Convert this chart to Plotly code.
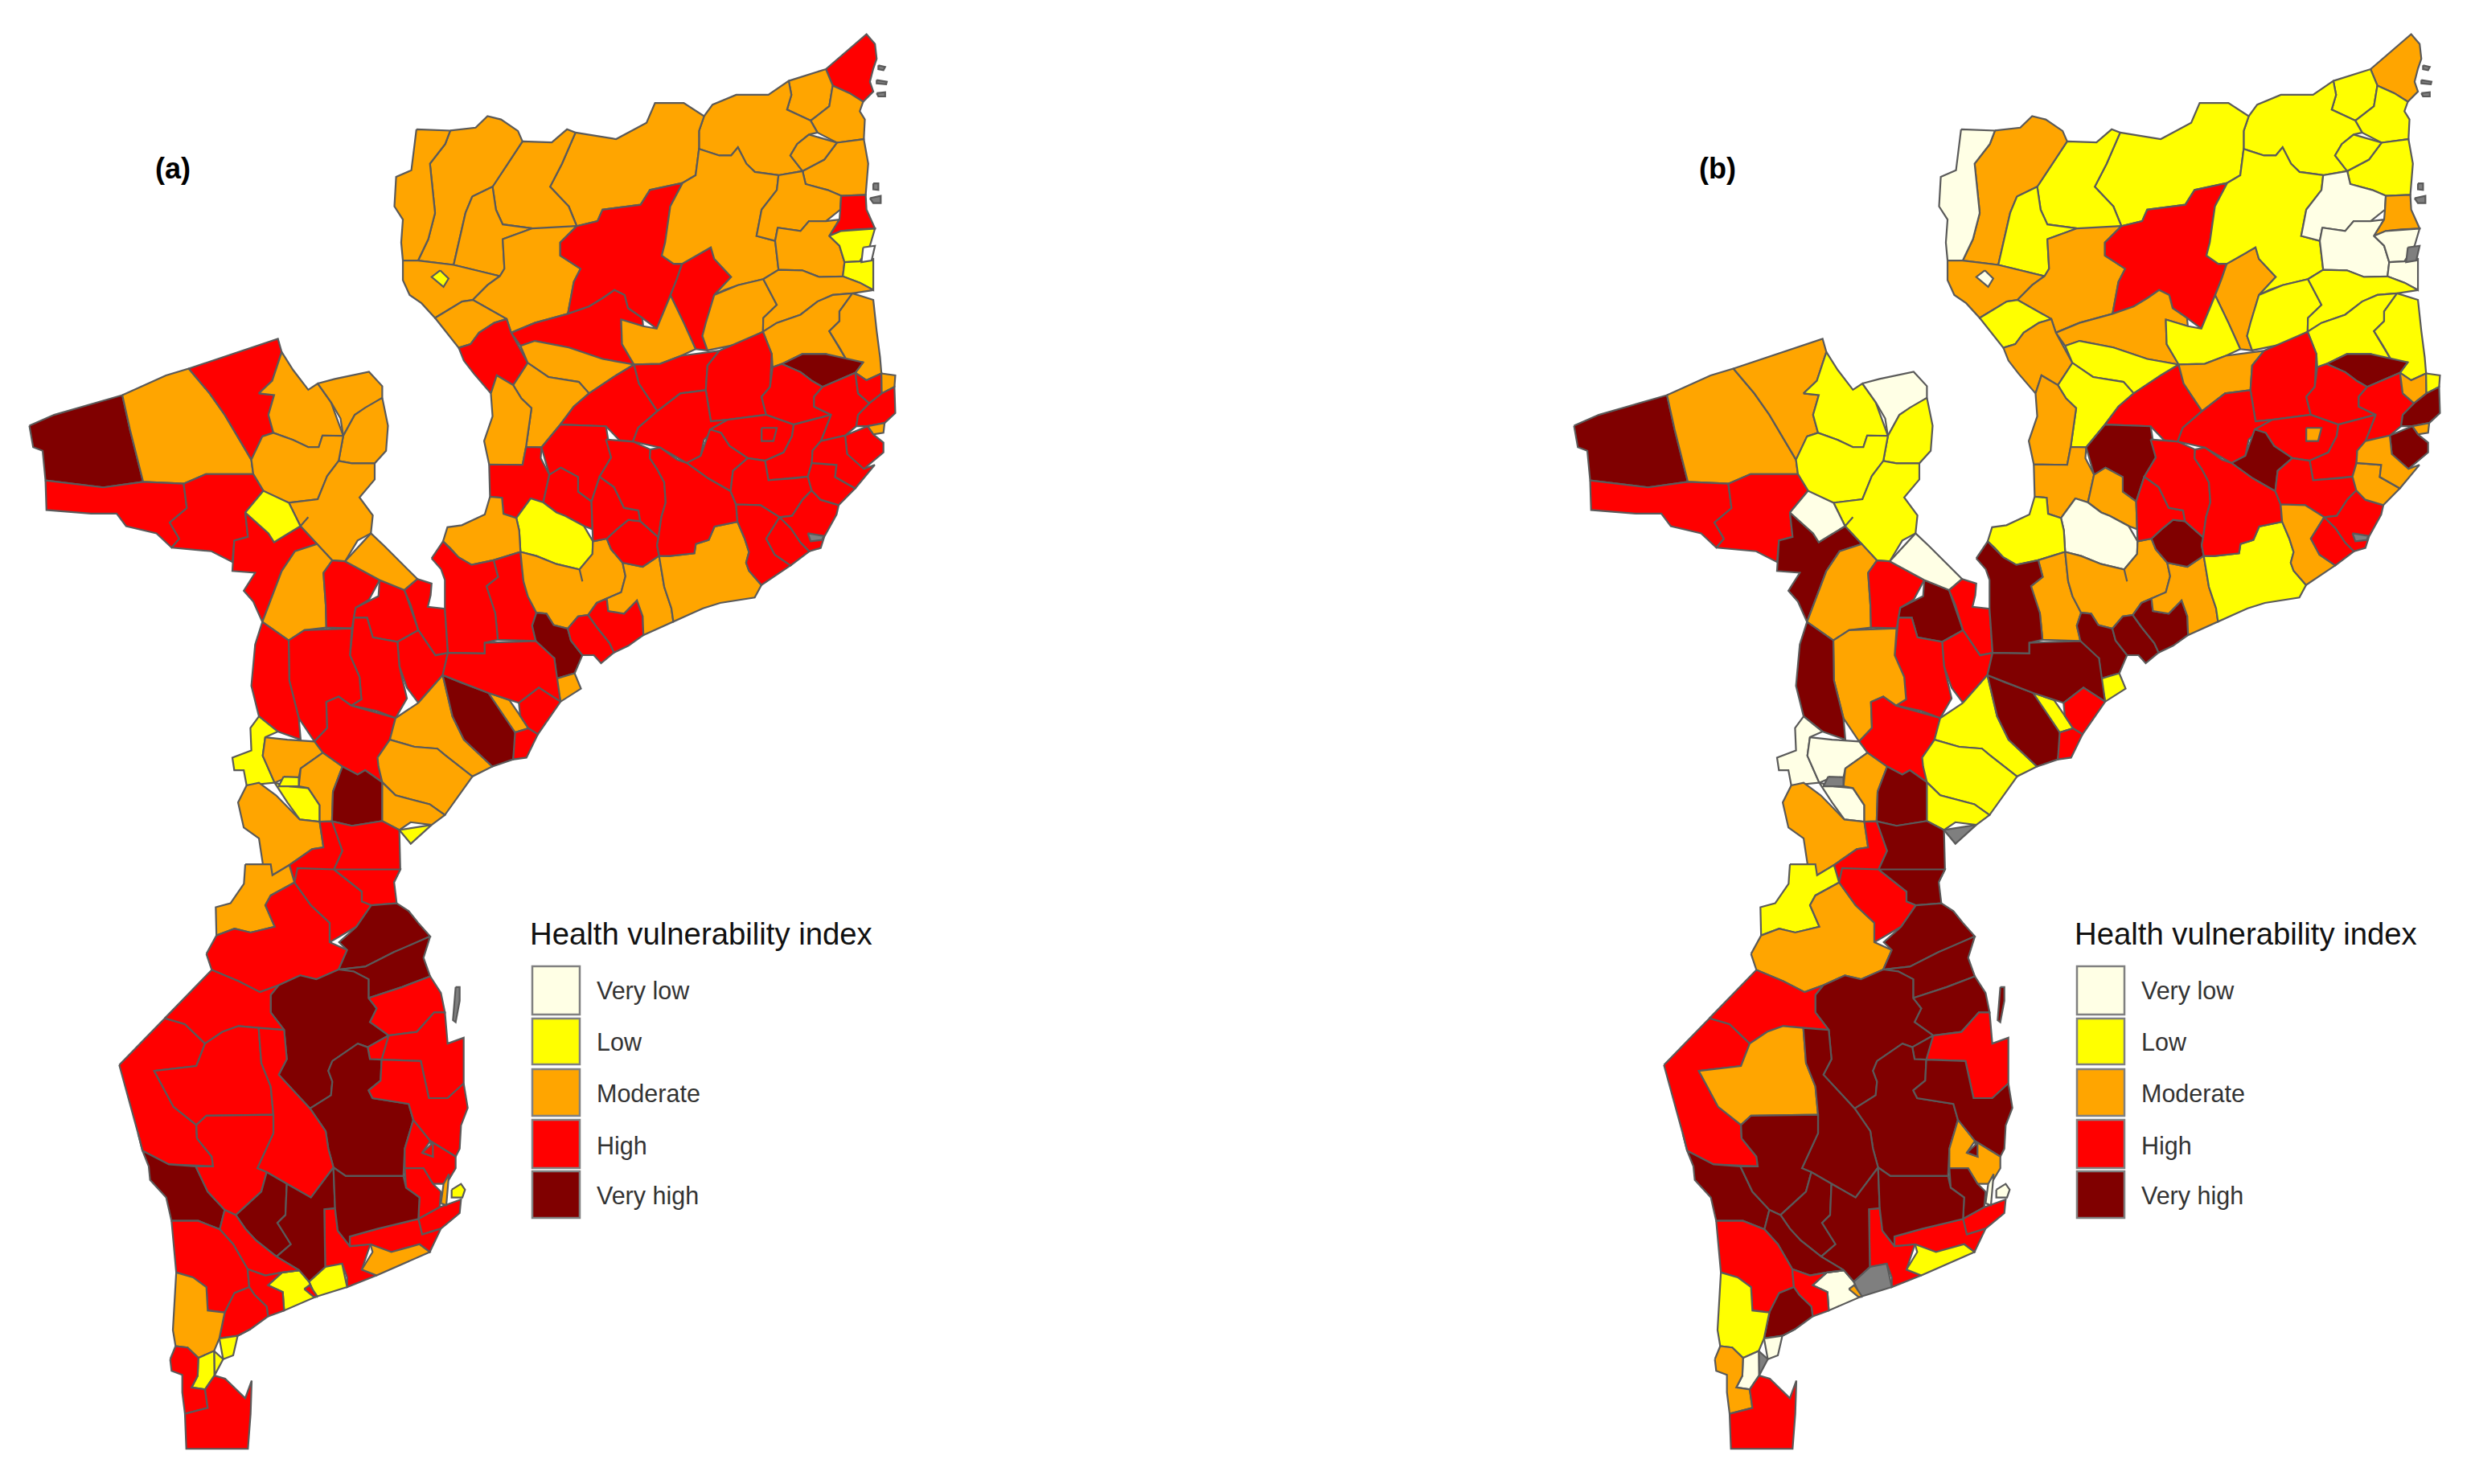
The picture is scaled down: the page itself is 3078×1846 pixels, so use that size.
import plotly.graph_objects as go

# class index: 0 very low, 1 low, 2 moderate, 3 high, 4 very high, 5 no data, 6 not mapped
class_names = ['Very low', 'Low', 'Moderate', 'High', 'Very high']
class_colors = ['#FFFFE5', '#FFFF00', '#FFA500', '#FF0000', '#800000', '#7F7F7F', '#FFFFFF']
panel_labels = ['(a)', '(b)']
legend_title = 'Health vulnerability index'

# district outlines, one list per map sheet: (class a, class b, ring)
north_districts = [
    (3, 2, [(1300,160),(1420,55),(1445,85),(1450,130),(1430,155),(1450,165),(1430,200),(1440,230),(1410,260),(1370,235),(1320,210)]),
    (2, 1, [(1190,190),(1300,150),(1300,175),(1320,210),(1310,275),(1245,320),(1185,285),(1198,240)]),
    (2, 1, [(1320,215),(1370,235),(1410,262),(1400,290),(1415,315),(1412,375),(1350,385),(1320,385),(1275,355),(1265,315),(1310,275)]),
    (2, 1, [(1345,385),(1412,375),(1425,450),(1420,545),(1345,545),(1305,530),(1240,512),(1240,475),(1300,435),(1340,400)]),
    (2, 1, [(940,305),(965,270),(1035,240),(1130,240),(1190,205),(1198,240),(1185,285),(1245,320),(1265,320),(1275,355),(1250,362),(1215,390),(1195,425),(1225,475),(1160,485),(1090,475),(1065,450),(1040,400),(1020,425),(985,425),(925,405),(925,350)]),
    (2, 1, [(1250,360),(1300,365),(1340,395),(1290,440),(1240,472),(1210,460),(1195,425),(1215,390)]),
    (2, 1, [(560,355),(680,375),(770,325),(795,265),(880,265),(940,305),(925,350),(925,405),(915,485),(880,505),(790,530),(755,575),(640,590),(625,625),(565,635),(540,580),(485,520),(520,450)]),
    (2, 1, [(410,385),(490,385),(535,345),(560,355),(520,450),(485,520),(540,580),(565,640),(480,650),(435,655),(430,635),(345,635),(325,590),(315,520),(360,450)]),
    (2, 2, [(190,350),(265,340),(300,305),(340,315),(390,350),(390,375),(410,385),(360,450),(315,520),(255,550),(235,600),(200,755),(95,745),(125,680),(145,600),(130,450),(175,390)]),
    (2, 0, [(90,345),(190,348),(175,390),(130,450),(145,600),(125,680),(95,745),(50,745),(45,690),(50,620),(25,580),(30,490),(75,470)]),
    (2, 1, [(255,550),(315,520),(325,590),(345,635),(430,635),(435,655),(345,680),(350,770),(360,800),(340,800),(320,785),(200,760),(235,600)]),
    (2, 2, [(50,745),(95,745),(200,760),(320,785),(300,820),(270,855),(225,870),(145,920),(105,875),(70,850),(50,805)]),
    (2, 2, [(345,680),(435,655),(560,645),(515,690),(515,730),(575,770),(555,810),(545,900),(530,915),(440,935),(370,965),(355,920),(250,870),(300,820),(320,785),(360,800),(350,770)]),
    (3, 3, [(565,640),(625,625),(640,590),(750,575),(770,530),(875,510),(840,580),(825,690),(815,730),(850,755),(875,755),(860,800),(830,830),(845,850),(830,870),(800,950),(760,920),(715,890),(705,850),(675,835),(640,860),(600,885),(545,900),(555,810),(575,770),(515,730),(515,690)]),
    (3, 2, [(875,755),(960,705),(970,740),(1020,795),(970,850),(945,935),(935,975),(950,1018),(915,1015),(880,935),(860,850),(830,830),(860,800)]),
    (3, 2, [(370,965),(440,935),(530,915),(600,885),(640,860),(675,835),(705,850),(715,890),(755,920),(760,945),(695,925),(695,990),(720,1060),(640,1045),(540,1010),(440,990),(400,1005)]),
    (2, 1, [(695,925),(760,945),(800,955),(830,870),(860,855),(880,935),(915,1015),(870,1035),(810,1060),(730,1055),(700,1010)]),
    (2, 1, [(840,580),(875,510),(915,485),(925,405),(985,425),(1020,425),(1040,400),(1065,450),(1090,475),(1160,485),(1155,530),(1110,590),(1095,670),(1150,685),(1160,770),(1115,800),(1040,820),(1000,835),(970,850),(1020,795),(970,740),(960,705),(875,755),(850,755),(815,730),(825,690)]),
    (2, 0, [(1160,485),(1240,480),(1240,512),(1305,530),(1345,550),(1340,590),(1300,625),(1250,625),(1225,655),(1160,645),(1150,685),(1095,670),(1110,590),(1155,530)]),
    (2, 0, [(1155,645),(1225,655),(1250,625),(1300,625),(1340,620),(1310,665),(1340,700),(1355,750),(1350,795),(1280,795),(1230,775),(1160,775),(1150,685)]),
    (3, 2, [(1345,548),(1415,545),(1420,590),(1445,640),(1390,650),(1345,655),(1310,670),(1340,620),(1345,590)]),
    (1, 0, [(1310,675),(1345,655),(1445,655),(1430,700),(1400,750),(1355,750),(1340,700)]),
    (1, 0, [(1355,750),(1400,745),(1440,740),(1440,830),(1400,810),(1350,790)]),
    (2, 1, [(970,850),(1040,820),(1115,805),(1155,880),(1115,920),(1120,950),(1115,965),(1040,1000),(950,1020),(935,975),(945,935)]),
    (2, 1, [(1115,800),(1160,775),(1230,775),(1280,795),(1350,795),(1400,815),(1440,840),(1380,845),(1320,850),(1275,870),(1225,910),(1155,935),(1120,950),(1115,920),(1155,880)]),
    (2, 1, [(1115,970),(1155,935),(1225,910),(1275,870),(1320,850),(1375,845),(1340,900),(1340,930),(1310,960),(1340,1010),(1365,1055),(1300,1030),(1230,1030),(1170,1050),(1145,1065),(1140,1030)]),
    (2, 1, [(1380,845),(1440,865),(1450,960),(1460,1030),(1445,1050),(1475,1040),(1480,1070),(1440,1080),(1420,1110),(1395,1085),(1410,1055),(1365,1055),(1340,1010),(1310,960),(1340,930),(1340,900)]),
    (4, 4, [(1170,1050),(1230,1030),(1300,1030),(1410,1055),(1380,1085),(1290,1130),(1260,1110),(1225,1085),(1170,1070)]),
    (2, 1, [(145,920),(225,870),(250,870),(355,920),(320,935),(275,965),(250,1000),(215,1010)]),
    (3, 2, [(215,1012),(250,1000),(275,965),(320,935),(360,930),(370,965),(415,1070),(370,1125),(330,1095),(310,1150),(260,1090),(230,1050)]),
    (2, 1, [(395,1005),(440,990),(540,1010),(640,1045),(725,1065),(680,1095),(600,1150),(570,1115),(480,1100),(425,1050),(415,1045)]),
    (2, 1, [(370,1125),(415,1070),(425,1050),(480,1100),(570,1115),(600,1150),(555,1190),(515,1245),(470,1300),(425,1315),(405,1300),(430,1195),(400,1165),(385,1125)]),
    (2, 2, [(310,1150),(325,1095),(370,1125),(385,1125),(400,1165),(430,1195),(405,1300),(415,1320),(405,1365),(305,1365),(290,1295),(315,1220)]),
    (3, 3, [(600,1150),(680,1095),(745,1065),(745,1120),(800,1195),(800,1215),(745,1255),(730,1295),(690,1290),(650,1250),(515,1245),(555,1190)]),
    (3, 2, [(745,1065),(810,1060),(875,1035),(985,1020),(950,1065),(945,1140),(870,1150),(805,1195),(750,1120)]),
    (3, 3, [(985,1020),(1100,975),(1140,1030),(1135,1130),(1110,1160),(1125,1215),(1010,1220),(960,1235),(945,1140),(950,1065)]),
    (3, 3, [(805,1200),(870,1150),(945,1140),(960,1235),(1010,1235),(940,1290),(930,1340),(885,1365),(810,1315),(730,1300),(745,1255),(800,1215)]),
    (3, 3, [(1140,1075),(1170,1070),(1225,1085),(1260,1115),(1290,1130),(1265,1160),(1265,1190),(1315,1215),(1205,1245),(1120,1215),(1110,1160),(1135,1130)]),
    (3, 3, [(1290,1130),(1380,1090),(1395,1150),(1425,1180),(1395,1215),(1390,1250),(1350,1280),(1285,1295),(1315,1215),(1265,1190),(1265,1160)]),
    (3, 2, [(1380,1090),(1400,1085),(1420,1110),(1460,1085),(1465,1150),(1430,1180),(1395,1150)]),
    (2, 1, [(1475,1100),(1505,1095),(1500,1130),(1465,1150),(1465,1110)]),
    (3, 4, [(1430,1180),(1465,1150),(1505,1130),(1505,1210),(1470,1230),(1475,1245),(1420,1250),(1390,1250),(1395,1215)]),
    (2, 2, [(1430,1250),(1475,1245),(1470,1270),(1440,1275)]),
    (3, 4, [(1370,1275),(1420,1250),(1440,1275),(1470,1300),(1470,1330),(1412,1380),(1380,1385),(1360,1330)]),
    (3, 3, [(1010,1235),(1125,1215),(1205,1245),(1200,1280),(1175,1330),(1120,1355),(1070,1345),(1015,1310),(990,1270),(955,1260)]),
    (3, 4, [(890,1355),(930,1340),(960,1260),(990,1270),(1015,1310),(1060,1345),(1025,1375),(1020,1445),(950,1405)]),
    (3, 3, [(1205,1245),(1315,1215),(1285,1295),(1260,1330),(1255,1360),(1255,1405),(1130,1415),(1120,1355),(1175,1330),(1200,1280)]),
]

north_enclosed = [
    (1, 0, [(160,775),(185,800),(170,825),(135,795)]),
    (6, 5, [(1410,705),(1445,700),(1435,745),(1405,750)]),
    (3, 2, [(1110,1255),(1155,1255),(1145,1295),(1110,1295)]),
    (5, 5, [(1455,150),(1475,155),(1470,165),(1455,162)]),
    (5, 5, [(1450,195),(1480,200),(1478,208),(1450,205)]),
    (5, 5, [(1450,235),(1475,232),(1475,245),(1455,245)]),
    (5, 5, [(1440,510),(1455,510),(1455,530),(1440,528)]),
    (5, 5, [(1430,555),(1462,548),(1462,570),(1440,570)]),
]

east_districts = [
    (3, 2, [(135,55),(250,58),(270,10),(305,0),(315,30),(345,90),(320,190),(280,180),(230,250),(185,235),(180,180),(150,175),(130,170)]),
    (3, 4, [(318,-4),(383,-95),(542,-89),(560,27),(530,85),(495,120),(490,190),(445,155),(445,100),(385,65),(345,90)]),
    (3, 2, [(345,95),(385,65),(445,100),(445,155),(490,195),(495,295),(465,280),(400,245),(370,230),(335,210),(320,190)]),
    (1, 0, [(280,180),(320,190),(370,235),(400,245),(465,285),(495,340),(490,375),(500,400),(460,440),(460,490),(440,450),(370,425),(300,395),(250,370),(270,350),(240,300),(230,255)]),
    (2, 1, [(135,175),(180,175),(185,240),(230,255),(240,300),(270,350),(250,380),(220,395),(170,425),(145,395),(120,405),(75,425),(30,395),(0,365),(-25,330),(-20,300),(0,275),(40,280),(120,240)]),
    (3, 2, [(170,430),(220,415),(250,440),(255,490),(270,545),(300,605),(285,655),(300,710),(165,710),(160,610),(125,540),(125,510),(160,475)]),
    (2, 2, [(225,395),(250,380),(300,395),(370,425),(440,450),(460,490),(460,440),(500,400),(490,375),(500,340),(540,330),(560,370),(600,420),(610,470),(595,530),(545,545),(510,570),(480,610),(445,620),(415,655),(405,670),(370,665),(350,640),(335,610),(300,605),(270,545),(255,490),(250,440)]),
    (4, 4, [(300,610),(335,610),(350,640),(370,665),(405,675),(420,710),(460,765),(455,800),(420,820),(415,850),(370,850),(360,780),(310,745),(295,715),(285,655)]),
    (3, 4, [(415,655),(445,620),(480,620),(510,660),(555,720),(570,755),(525,795),(500,765),(460,765),(420,710),(405,675)]),
    (3, 4, [(480,615),(510,570),(545,570),(550,600),(605,610),(650,560),(670,620),(670,690),(620,730),(570,755),(555,720),(510,660)]),
    (2, 2, [(545,545),(595,530),(610,470),(600,420),(670,435),(720,405),(745,510),(770,590),(780,630),(760,650),(675,690),(670,620),(650,560),(605,610),(550,600)]),
    (2, 1, [(725,390),(765,395),(850,385),(855,350),(900,335),(920,285),(985,270),(1010,265),(1025,330),(1040,380),(1030,420),(1040,450),(1075,510),(1060,550),(940,570),(880,590),(790,640),(770,590),(745,510)]),
    (3, 4, [(550,330),(580,295),(620,260),(660,265),(725,325),(720,355),(735,385),(720,405),(670,435),(600,420),(560,370)]),
    (3, 3, [(495,190),(520,105),(570,140),(605,215),(655,225),(660,265),(620,260),(580,295),(545,330),(495,340),(495,295)]),
    (3, 3, [(542,-40),(589,-34),(636,-34),(695,-4),(700,0),(695,30),(720,70),(745,120),(750,195),(735,250),(725,325),(665,265),(655,225),(605,215),(570,135),(525,100),(530,85),(560,27)]),
    (3, 3, [(695,-4),(731,-10),(790,35),(820,50),(830,50),(900,110),(975,155),(990,200),(1010,265),(985,270),(920,285),(900,335),(855,350),(850,385),(765,395),(735,385),(720,355),(725,325),(735,250),(750,195),(745,120),(720,70),(695,30)]),
    (3, 3, [(975,155),(985,90),(1020,30),(1060,35),(1096,39),(1108,112),(1200,105),(1240,95),(1255,150),(1225,180),(1230,190),(1190,245),(1150,240),(1080,205),(1000,205),(990,200)]),
    (3, 2, [(1000,205),(1080,205),(1145,240),(1130,255),(1100,330),(1130,390),(1185,430),(1100,490),(1075,510),(1040,450),(1030,420),(1040,380),(1025,330),(1010,265)]),
    (3, 3, [(1130,255),(1160,260),(1185,290),(1220,345),(1250,375),(1185,430),(1130,390),(1100,330)]),
    (3, 3, [(1150,240),(1190,245),(1230,190),(1225,175),(1260,150),(1290,185),(1350,205),(1345,240),(1310,310),(1295,335),(1290,365),(1250,380),(1220,345),(1185,290),(1160,260)]),
    (3, 2, [(1240,100),(1260,50),(1345,55),(1340,100),(1410,145),(1355,205),(1290,185),(1260,150)]),
    (3, 2, [(1290,-34),(1367,-53),(1385,20),(1440,70),(1478,55),(1410,140),(1340,100),(1345,55),(1262,48),(1262,-5)]),
    (1, 5, [(425,820),(450,810),(445,845),(430,840)]),
    (2, 1, [(370,855),(415,850),(430,840),(445,850),(455,890),(395,950),(385,930),(375,890)]),
]

east_enclosed = [
    (5, 5, [(1245,310),(1300,320),(1295,335),(1255,340)]),
]

central_districts = [
    (4, 4, [(35,290),(100,260),(280,205),(300,300),(335,440),(230,462),(75,440),(70,360),(45,350)]),
    (2, 2, [(280,205),(395,150),(455,132),(510,200),(550,260),(620,385),(625,425),(500,425),(440,450),(335,450),(300,300)]),
    (3, 2, [(455,130),(690,48),(700,85),(675,165),(640,195),(680,205),(665,260),(678,310),(648,325),(620,385),(550,260),(510,200)]),
    (2, 1, [(700,85),(730,135),(770,190),(790,170),(830,225),(860,300),(855,330),(810,315),(795,350),(770,350),(730,330),(678,310),(665,260),(680,205),(640,205),(675,165)]),
    (2, 0, [(800,175),(840,160),(930,140),(965,180),(965,210),(900,250),(880,310),(860,310),(855,270),(830,225)]),
    (2, 1, [(965,215),(980,290),(975,360),(945,395),(885,395),(850,385),(855,330),(870,320),(885,270),(920,240)]),
    (2, 1, [(650,315),(678,310),(730,330),(770,350),(800,350),(805,320),(855,330),(850,390),(820,430),(795,495),(730,485),(715,510),(680,490),(650,470),(625,425),(620,385)]),
    (2, 1, [(720,490),(795,495),(820,430),(850,390),(885,395),(945,395),(945,440),(905,490),(940,540),(935,590),(900,610),(870,650),(855,670),(830,660),(790,610),(770,590),(735,540),(715,520)]),
    (3, 3, [(80,445),(230,462),(335,450),(445,455),(450,520),(405,560),(430,605),(410,630),(370,590),(290,570),(265,535),(205,540),(190,530),(80,525)]),
    (3, 3, [(440,450),(500,425),(625,425),(650,470),(600,525),(610,600),(575,610),(570,670),(515,640),(410,630),(430,605),(405,560),(450,520)]),
    (3, 4, [(600,530),(610,540),(665,590),(680,615),(745,585),(795,625),(735,640),(700,695),(655,830),(640,845),(625,780),(600,750),(630,700),(570,695),(575,610),(612,600)]),
    (1, 0, [(600,525),(655,475),(715,520),(735,570),(710,595),(680,615),(665,590),(610,540)]),
    (1, 5, [(735,550),(770,545),(770,585),(755,570)]),
    (2, 2, [(735,640),(795,625),(835,665),(810,700),(810,780),(820,850),(760,860),(715,885),(655,830),(700,695)]),
    (3, 3, [(835,672),(870,680),(955,705),(960,740),(930,775),(890,800),(885,855),(815,855),(822,800),(810,700)]),
    (3, 4, [(960,725),(1020,745),(1060,860),(1010,900),(1000,885),(940,880),(925,825),(890,825),(900,795),(955,765)]),
    (2, 0, [(870,660),(935,590),(970,625),(1030,690),(1055,710),(1025,750),(960,725),(955,705),(870,680)]),
    (3, 3, [(1025,750),(1060,725),(1095,730),(1100,755),(1085,770),(1085,795),(1130,800),(1135,935),(1105,930),(1060,860),(1040,790)]),
    (3, 3, [(1060,860),(1105,930),(1135,940),(1140,970),(1095,1010),(1060,1060),(1030,1020),(1010,960),(1010,900)]),
    (3, 3, [(890,825),(925,825),(940,880),(1000,885),(1010,960),(1030,1050),(1000,1105),(950,1085),(885,1070),(910,1050),(905,990),(880,930)]),
    (3, 2, [(720,890),(760,860),(885,855),(880,930),(905,990),(910,1055),(880,1070),(850,1045),(815,1060),(820,1130),(790,1160),(775,1170),(745,1105),(720,1000)]),
    (3, 4, [(655,830),(720,890),(720,1000),(745,1105),(750,1165),(690,1145),(640,1095),(620,1015),(630,900),(640,850)]),
    (3, 3, [(820,1060),(850,1045),(885,1070),(1000,1105),(985,1165),(950,1215),(965,1280),(920,1250),(900,1262),(860,1240),(810,1200),(790,1175),(820,1135)]),
    (3, 4, [(1095,660),(1125,620),(1165,660),(1200,680),(1245,655),(1270,665),(1275,710),(1240,735),(1260,810),(1270,885),(1235,895),(1235,925),(1145,925),(1135,900),(1130,800),(1130,720),(1120,690)]),
    (2, 1, [(1060,1065),(1110,990),(1125,1000),(1150,1100),(1180,1165),(1255,1240),(1210,1275),(1195,1260),(1130,1205),(1110,1190),(1050,1185),(985,1165),(1000,1105)]),
    (4, 4, [(1130,980),(1170,1005),(1245,1035),(1320,1100),(1310,1215),(1255,1240),(1180,1165),(1150,1100)]),
    (2, 1, [(1245,1035),(1300,1055),(1330,1095),(1350,1130),(1320,1145)]),
    (3, 4, [(1140,915),(1235,925),(1235,895),(1370,890),(1420,935),(1425,1050),(1380,1020),(1325,1060),(1245,1035),(1170,1005),(1130,975),(1140,970)]),
    (3, 3, [(1325,1065),(1375,1020),(1425,1050),(1445,1075),(1375,1150),(1350,1135),(1335,1100)]),
    (3, 3, [(1310,1145),(1350,1135),(1375,1150),(1345,1215),(1310,1225)]),
    (1, 0, [(640,1105),(690,1140),(655,1170),(650,1210),(670,1275),(610,1290),(600,1250),(575,1250),(570,1215),(620,1195),(625,1135),(610,1130)]),
    (2, 0, [(665,1145),(715,1165),(790,1175),(805,1200),(750,1245),(745,1270),(715,1270),(690,1285),(680,1295),(650,1210),(650,1160)]),
    (1, 0, [(685,1285),(720,1295),(770,1300),(800,1350),(800,1395),(750,1385),(715,1340)]),
    (2, 2, [(750,1245),(810,1205),(860,1240),(835,1310),(835,1390),(800,1390),(800,1345),(770,1300),(745,1295)]),
    (4, 4, [(860,1240),(900,1262),(920,1250),(965,1285),(965,1390),(885,1405),(835,1390),(835,1310)]),
    (2, 1, [(955,1215),(985,1165),(1050,1185),(1110,1190),(1130,1210),(1195,1260),(1210,1275),(1130,1375),(1090,1345),(1000,1320),(965,1285),(955,1240)]),
    (2, 1, [(965,1285),(1000,1320),(1090,1345),(1130,1375),(1095,1405),(1040,1395),(1010,1410),(965,1390)]),
    (1, 5, [(1015,1420),(1095,1400),(1040,1455)]),
    (2, 2, [(605,1295),(640,1285),(685,1320),(745,1390),(800,1395),(810,1465),(780,1470),(720,1510),(680,1540),(650,1510),(640,1440),(600,1410),(585,1340)]),
    (3, 3, [(800,1395),(830,1395),(850,1440),(860,1480),(835,1530),(800,1568),(720,1568),(720,1510),(780,1470),(810,1465)]),
    (3, 4, [(830,1395),(885,1405),(965,1395),(1005,1420),(1015,1530),(1000,1568),(860,1568),(835,1530),(860,1470)]),
]

central_enclosed = [
    (1, 5, [(705,1268),(745,1270),(745,1295),(692,1295)]),
]

south_districts = [
    (2, 1, [(525,-10),(620,-10),(620,20),(690,0),(715,30),(620,70),(600,95),(635,150),(545,165),(485,155),(415,170),(415,100),(470,90),(520,40)]),
    (3, 2, [(380,220),(420,175),(485,155),(545,165),(635,150),(600,95),(620,70),(715,40),(770,95),(840,140),(840,190),(905,210),(880,255),(855,265),(790,285),(730,275),(650,300),(580,318),(500,290),(400,260)]),
    (3, 3, [(715,35),(720,0),(860,0),(960,60),(960,85),(995,95),(940,150),(840,190),(840,140),(770,95)]),
    (3, 4, [(860,0),(1100,0),(1075,30),(1090,90),(995,95),(960,85),(960,60)]),
    (4, 4, [(995,95),(1090,90),(1135,110),(1170,140),(1215,175),(1120,205),(1080,215),(985,255),(960,250),(880,255),(905,210),(875,190),(940,150)]),
    (4, 4, [(885,260),(960,250),(985,255),(1080,215),(1215,175),(1190,230),(1215,275),(1110,305),(985,330),(985,285),(930,265)]),
    (3, 4, [(985,335),(1110,305),(1215,280),(1255,320),(1270,370),(1230,370),(1165,420),(1060,425),(990,395),(1015,360)]),
    (4, 4, [(650,300),(730,275),(790,285),(855,265),(885,260),(930,265),(985,285),(985,335),(1015,360),(990,395),(1060,430),(985,460),(945,450),(850,495),(835,520),(850,550),(845,580),(765,615),(650,530),(680,490),(670,415),(620,370),(620,325)]),
    (3, 3, [(1060,430),(1165,420),(1230,370),(1270,370),(1280,450),(1340,435),(1345,550),(1280,590),(1210,590),(1180,495),(1040,490),(1030,465)]),
    (3, 4, [(980,458),(1060,432),(1035,490),(990,490)]),
    (4, 4, [(850,495),(945,450),(980,460),(990,490),(1030,495),(1030,545),(985,570),(1000,590),(1135,605),(1140,640),(1160,650),(1120,720),(1115,790),(1020,790),(900,790),(860,765),(835,720),(825,675),(770,620),(845,585),(850,545),(835,520)]),
    (3, 4, [(985,570),(1030,545),(1030,490),(1180,495),(1210,590),(1280,590),(1335,555),(1345,610),(1365,620),(1330,660),(1325,720),(1310,740),(1225,700),(1205,690),(1160,650),(1140,640),(1135,605),(1000,590)]),
    (3, 2, [(1160,650),(1205,690),(1215,710),(1185,730),(1225,740),(1225,710),(1310,740),(1310,770),(1275,810),(1225,810),(1190,770),(1120,770),(1120,720)]),
    (3, 4, [(1120,770),(1190,770),(1225,810),(1255,830),(1250,865),(1175,900),(1165,895),(1175,845),(1125,820)]),
    (3, 3, [(1175,905),(1250,875),(1330,850),(1325,885),(1255,925),(1185,940)]),
    (3, 3, [(820,875),(870,875),(870,930),(915,970),(990,965),(960,1030),(1015,1045),(905,1075),(905,1050),(890,1010),(830,1025)]),
    (3, 3, [(915,945),(1020,925),(1175,905),(1185,940),(1255,925),(1230,985),(1205,985),(1175,965),(1070,985),(1000,965),(915,970)]),
    (2, 1, [(960,1030),(1000,985),(985,965),(1070,985),(1175,965),(1205,985),(1015,1045)]),
    (1, 5, [(765,1050),(820,1025),(870,1005),(900,1020),(885,1025),(905,1075),(795,1100),(765,1070)]),
    (1, 0, [(610,1070),(665,1045),(730,1040),(750,1060),(745,1085),(780,1100),(670,1135),(665,1085)]),
    (3, 3, [(55,505),(225,385),(300,400),(375,450),(345,505),(185,520),(250,610),(335,655),(345,695),(400,740),(405,765),(240,760),(150,720),(125,680)]),
    (4, 4, [(125,680),(150,720),(240,760),(340,765),(385,830),(450,875),(430,925),(350,905),(245,905),(230,845),(170,800),(165,765),(125,735)]),
    (3, 3, [(225,385),(400,262),(500,290),(580,318),(650,300),(620,325),(620,370),(670,415),(500,405),(440,420),(375,450),(300,400)]),
    (3, 2, [(185,520),(340,510),(375,450),(440,420),(500,405),(575,410),(585,500),(620,560),(620,630),(380,635),(350,660),(345,690),(335,655),(265,615)]),
    (3, 4, [(575,410),(670,415),(680,490),(650,530),(765,615),(825,675),(835,720),(850,760),(770,845),(680,810),(605,780),(570,770),(630,680),(640,635),(620,630),(620,560),(585,500)]),
    (3, 4, [(350,665),(380,635),(640,635),(630,680),(570,770),(605,780),(585,830),(490,890),(450,875),(385,830),(340,765),(405,765),(400,740),(345,695)]),
    (4, 4, [(490,890),(585,830),(605,780),(680,810),(675,890),(645,910),(695,965),(640,995),(565,955),(525,925)]),
    (4, 4, [(680,810),(770,845),(850,775),(850,870),(820,875),(820,1020),(790,1040),(725,1025),(645,1000),(695,965),(645,910),(675,890)]),
    (4, 4, [(860,765),(900,790),(1020,790),(1115,790),(1125,820),(1175,845),(1165,895),(1020,925),(915,945),(915,970),(870,930),(870,875),(850,870),(850,775)]),
    (3, 4, [(445,880),(490,890),(525,925),(565,955),(640,995),(725,1025),(660,1030),(600,1045),(540,1030),(525,1025),(480,965),(430,930)]),
    (3, 3, [(255,905),(350,905),(430,925),(480,965),(525,1025),(540,1030),(540,1075),(475,1085),(495,1095),(450,1140),(385,1135),(380,1075),(330,1050),(265,1035)]),
    (3, 3, [(540,1035),(600,1045),(660,1030),(725,1030),(730,1040),(665,1045),(610,1070),(665,1090),(670,1135),(610,1150),(605,1125),(560,1095),(540,1075)]),
    (3, 4, [(425,1205),(450,1140),(495,1095),(475,1085),(540,1075),(560,1095),(605,1125),(610,1150),(545,1180),(490,1195)]),
    (2, 1, [(270,1040),(330,1050),(380,1075),(385,1135),(445,1140),(425,1205),(410,1235),(350,1255),(310,1230),(265,1225),(255,1185)]),
    (1, 0, [(435,1210),(490,1195),(545,1185),(510,1210),(480,1250),(445,1260)]),
    (1, 5, [(395,1245),(435,1230),(440,1260),(420,1295),(400,1295)]),
    (1, 0, [(350,1260),(395,1245),(400,1295),(415,1305),(380,1345),(370,1330),(325,1335),(350,1305)]),
    (3, 2, [(245,1260),(265,1228),(310,1230),(350,1255),(345,1300),(325,1330),(370,1330),(385,1385),(300,1400),(290,1345),(290,1300),(250,1290)]),
    (3, 3, [(300,1400),(385,1385),(380,1345),(415,1320),(450,1310),(525,1360),(540,1315),(558,1315),(545,1400),(535,1490),(305,1490)]),
]

south_enclosed = [
    (3, 4, [(1185,730),(1225,705),(1225,740)]),
    (2, 0, [(1255,860),(1265,810),(1285,785),(1280,830),(1275,865)]),
    (1, 0, [(1295,825),(1330,810),(1345,825),(1335,845),(1295,845)]),
    (3, 2, [(745,1080),(765,1070),(795,1100),(780,1100)]),
    (5, 4, [(1310,305),(1325,305),(1325,340),(1310,395),(1300,390)]),
]

# sheet origin and scale, map units are the picture's pixels
sheets = [
    (north_districts, 480, 20, 2.376, 2.45),
    (east_districts, 560, 560, 2.8, 3.0),
    (central_districts, 20, 400, 2.119, 2.24),
    (south_districts, 130, 1080, 3.0, 2.063),
]
enclosed_sheets = [
    (north_enclosed, 480, 20, 2.376, 2.45),
    (east_enclosed, 560, 560, 2.8, 3.0),
    (central_enclosed, 20, 400, 2.119, 2.24),
    (south_enclosed, 130, 1080, 3.0, 2.063),
]
SNAP_PX = 9


def to_map(rows):
    out = []
    for districts, ox, oy, sx, sy in rows:
        for a, b, ring in districts:
            out.append((a, b, [[ox + p[0] / sx, oy + p[1] / sy] for p in ring]))
    return out


def snap_vertices(shapes):
    # neighbouring districts were read separately, close the small slivers between them
    points = [p for shape in shapes for p in shape[2]]
    parent = list(range(len(points)))

    def find(i):
        while parent[i] != i:
            parent[i] = parent[parent[i]]
            i = parent[i]
        return i

    for i in range(len(points)):
        for j in range(i + 1, len(points)):
            if abs(points[i][0] - points[j][0]) < SNAP_PX and abs(points[i][1] - points[j][1]) < SNAP_PX:
                parent[find(i)] = find(j)
    groups = {}
    for i in range(len(points)):
        groups.setdefault(find(i), []).append(i)
    for members in groups.values():
        mx = sum(points[i][0] for i in members) / len(members)
        my = sum(points[i][1] for i in members) / len(members)
        for i in members:
            points[i][0], points[i][1] = mx, my


map_shapes = to_map(sheets)
snap_vertices(map_shapes)
map_shapes += to_map(enclosed_sheets)

fig = go.Figure()
for panel, (xref, yref) in enumerate([('x', 'y'), ('x2', 'y2')]):
    for shape in map_shapes:
        cls = shape[panel]
        ring = shape[2] + shape[2][:1]
        fig.add_trace(go.Scatter(
            x=[p[0] for p in ring], y=[p[1] for p in ring],
            xaxis=xref, yaxis=yref, mode='lines', fill='toself',
            fillcolor=class_colors[cls], line=dict(color='#5A5A5A', width=2.2),
            hoverinfo='skip', showlegend=False))

shapes = []
annotations = []
swatch_tops = [1202, 1267, 1330, 1393, 1457]
swatch_bottoms = [1262, 1324, 1388, 1453, 1515]
label_y = [1232, 1296, 1360, 1425, 1487]
for xref, yref, label in [('x', 'y', panel_labels[0]), ('x2', 'y2', panel_labels[1])]:
    annotations.append(dict(x=215, y=209, xref=xref, yref=yref, text='<b>' + label + '</b>', showarrow=False,
                            font=dict(size=36, color='#000000')))
    annotations.append(dict(x=657, y=1161, xref=xref, yref=yref, text=legend_title, showarrow=False, xanchor='left',
                            font=dict(size=38.3, color='#111111')))
    for i, name in enumerate(class_names):
        shapes.append(dict(type='rect', x0=662, x1=721, y0=swatch_tops[i], y1=swatch_bottoms[i], xref=xref, yref=yref,
                           fillcolor=class_colors[i], line=dict(color='#808080', width=2.5)))
        annotations.append(dict(x=740, y=label_y[i], xref=xref, yref=yref, text=name, showarrow=False, xanchor='left',
                                font=dict(size=30.5, color='#333333')))

axis_style = dict(visible=False, showgrid=False, zeroline=False)
fig.update_layout(
    width=3070, height=1838, margin=dict(l=0, r=0, t=0, b=0), autosize=False,
    paper_bgcolor='white', plot_bgcolor='white', showlegend=False,
    font=dict(family='Liberation Sans, Arial, sans-serif'),
    xaxis=dict(domain=[0, 1531 / 3070], range=[8, 1539], **axis_style),
    xaxis2=dict(domain=[1531 / 3070, 1], range=[-382, 1157], **axis_style),
    yaxis=dict(domain=[0, 1], range=[1846, 8], anchor='x', **axis_style),
    yaxis2=dict(domain=[0, 1], range=[1846, 8], anchor='x2', **axis_style),
    shapes=shapes, annotations=annotations,
)
fig.write_html("out.html")
